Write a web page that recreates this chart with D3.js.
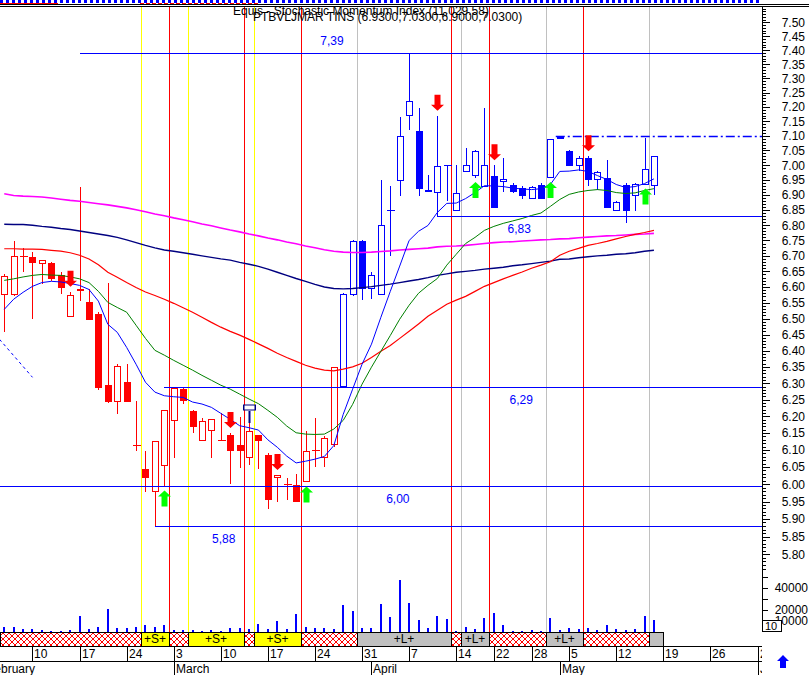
<!DOCTYPE html>
<html><head><meta charset="utf-8">
<script src="https://cdn.jsdelivr.net/npm/d3@7"></script>
<style>body{margin:0;background:#fff;} svg{display:block;font-family:Arial,"Liberation Sans",sans-serif;}</style>
</head><body><svg id="c" width="809" height="675"></svg>
<script>
// ---------- DATA (trading days from 5 Feb 2003, index 0) ----------
const opens = [6.573,6.573,6.698,6.695,6.675,6.676,6.637,6.506,6.595,6.553,
 6.513,6.294,6.244,6.305,6.115,6.044,5.976,6.054,6.187,6.283,
 6.216,6.127,6.156,6.129,6.144,6.115,6.075,6.144,6.085,6.017,
 6.002,5.997,6.005,6.100,6.075,6.115,6.290,6.574,6.747,6.592,
 6.574,6.849,6.946,7.169,7.118,6.918,6.908,7.000,6.846,6.976,
 6.965,6.928,6.965,6.944,6.935,6.924,6.887,6.935,6.957,7.098,
 7.047,6.998,7.024,6.949,6.957,6.846,6.935,6.898,6.935,6.930];
const highs = [6.640,6.747,6.727,6.711,6.688,6.680,6.647,6.585,6.928,6.594,
 6.520,6.614,6.360,6.360,6.245,6.098,6.126,6.220,6.290,6.290,
 6.220,6.194,6.193,6.209,6.150,6.197,6.212,6.144,6.090,6.027,
 6.017,6.030,6.157,6.194,6.140,6.350,6.580,6.750,6.750,6.647,
 6.949,6.930,7.166,7.390,7.195,6.968,7.169,7.000,7.000,7.059,
 7.050,7.195,7.000,7.023,6.940,6.930,6.930,6.940,7.090,7.100,
 7.050,7.030,7.030,6.980,7.016,6.880,6.940,6.940,7.094,7.030];
const lows = [6.459,6.570,6.648,6.498,6.610,6.620,6.577,6.506,6.554,6.496,
 6.280,6.240,6.206,6.244,6.098,5.978,5.880,5.993,6.075,6.238,
 6.149,6.127,6.077,6.129,6.000,6.047,6.056,6.044,5.929,5.949,
 5.955,5.948,6.005,6.050,6.049,6.110,6.290,6.570,6.560,6.561,
 6.574,6.700,6.896,7.121,6.898,6.909,6.830,6.879,6.846,6.976,
 6.957,6.928,6.857,6.909,6.905,6.885,6.887,6.887,6.957,7.090,
 6.998,6.980,6.930,6.918,6.857,6.846,6.808,6.846,6.935,6.900];
const closes = [6.636,6.698,6.698,6.678,6.688,6.624,6.596,6.575,6.588,6.496,
 6.286,6.244,6.353,6.244,6.115,6.017,6.126,6.218,6.286,6.246,
 6.167,6.186,6.193,6.129,6.098,6.098,6.156,6.127,5.955,6.027,
 6.002,5.948,6.097,6.100,6.134,6.349,6.577,6.747,6.594,6.637,
 6.799,6.849,7.098,7.221,6.921,6.909,6.998,7.000,6.907,7.000,
 7.049,7.000,6.857,6.953,6.909,6.896,6.928,6.887,7.090,7.090,
 6.998,7.024,6.949,6.976,6.857,6.877,6.846,6.938,6.988,7.030];
const volumes = [4300,4800,2500,2700,1800,900,900,1800,14500,2700,
 4800,20900,3600,3600,4800,6400,4800,6600,1800,1800,
 1500,1200,1800,900,3900,3900,2700,7300,2700,10000,
 2700,16600,4500,3600,3900,2700,24800,18800,3600,3600,
 25500,13600,47300,26400,10600,3600,14500,11800,900,4500,
 2700,12500,17000,6400,900,900,1800,900,12500,1800,
 3600,2700,3600,1800,6400,2700,1800,2700,14500,10900];
const maBlue = [6.529,6.561,6.583,6.602,6.614,6.618,6.616,6.611,6.605,6.592,
 6.555,6.482,6.457,6.410,6.358,6.303,6.273,6.262,6.259,6.257,
 6.243,6.237,6.227,6.209,6.191,6.172,6.166,6.159,6.130,6.108,
 6.082,6.062,6.067,6.073,6.081,6.113,6.206,6.282,6.358,6.420,
 6.504,6.586,6.667,6.750,6.780,6.799,6.842,6.872,6.873,6.888,
 6.908,6.931,6.930,6.928,6.923,6.920,6.918,6.921,6.935,6.979,
 6.980,6.984,6.979,6.965,6.952,6.935,6.925,6.928,6.938,6.954];
const maGreen = [6.621,6.626,6.632,6.637,6.640,6.638,6.637,6.632,6.626,6.614,
 6.586,6.551,6.535,6.520,6.479,6.438,6.401,6.386,6.370,6.355,
 6.340,6.324,6.309,6.294,6.282,6.267,6.252,6.238,6.218,6.197,
 6.171,6.151,6.147,6.146,6.147,6.162,6.188,6.236,6.297,6.349,
 6.398,6.447,6.498,6.542,6.580,6.605,6.627,6.670,6.705,6.740,
 6.760,6.783,6.796,6.806,6.814,6.822,6.832,6.840,6.862,6.885,
 6.902,6.910,6.915,6.918,6.915,6.908,6.905,6.907,6.915,6.921];
const maRed = [6.723,6.723,6.722,6.722,6.721,6.718,6.715,6.710,6.702,6.690,
 6.671,6.647,6.631,6.614,6.598,6.584,6.573,6.561,6.548,6.534,
 6.520,6.504,6.488,6.473,6.460,6.448,6.435,6.421,6.407,6.392,
 6.379,6.367,6.355,6.346,6.340,6.338,6.343,6.350,6.361,6.379,
 6.398,6.416,6.438,6.460,6.483,6.507,6.526,6.545,6.558,6.570,
 6.586,6.602,6.614,6.626,6.637,6.648,6.660,6.670,6.681,6.702,
 6.715,6.724,6.734,6.740,6.747,6.755,6.763,6.770,6.776,6.783];
const maNavy = [6.803,6.802,6.802,6.800,6.796,6.793,6.789,6.786,6.781,6.776,
 6.771,6.766,6.760,6.752,6.743,6.734,6.726,6.719,6.715,6.710,
 6.705,6.700,6.695,6.690,6.686,6.679,6.673,6.666,6.657,6.647,
 6.637,6.627,6.618,6.608,6.600,6.595,6.594,6.595,6.598,6.601,
 6.605,6.609,6.614,6.619,6.624,6.630,6.637,6.642,6.647,6.650,
 6.653,6.657,6.660,6.663,6.668,6.671,6.675,6.679,6.683,6.689,
 6.690,6.694,6.697,6.700,6.702,6.705,6.707,6.710,6.715,6.718];
const maMagenta = [6.904,6.898,6.896,6.895,6.893,6.890,6.886,6.882,6.879,6.875,
 6.871,6.867,6.862,6.857,6.851,6.844,6.837,6.831,6.824,6.818,
 6.811,6.804,6.798,6.791,6.784,6.778,6.771,6.765,6.758,6.752,
 6.745,6.739,6.732,6.726,6.720,6.715,6.712,6.711,6.711,6.712,
 6.714,6.716,6.719,6.721,6.723,6.725,6.729,6.731,6.732,6.734,
 6.737,6.740,6.743,6.745,6.746,6.748,6.750,6.752,6.753,6.755,
 6.756,6.759,6.761,6.763,6.765,6.766,6.768,6.770,6.771,6.773];
const sellDays = [7,24,29,46,52,62];
const buyDays = [17,32,50,58,68];
const markerDay = 26;
const blueFrom = 36;
const levelValues = [7.39,6.83,6.29,5.995,5.88];
const levelLabels = ["7,39","6,83","6,29","6,00","5,88"];
const levelFrom = [8,46,17,-1,16];
const levelLabelDay = [34.8,54.7,54.9,41.8,23.3];
const dashLevel = 7.10, dashFrom = 59;
const trendLine = [[-0.5,6.435],[3.0,6.318]];
const bandEdges = [-0.5,14.5,17.5,19.5,25.5,26.5,31.5,37.5,47.5,48.5,51.5,57.5,61.5,68.5,70];
const bandKinds = ["x","S","x","S","x","S","x","L","x","L","x","L","x","G"];
const weekTickDays = [3,8,13,18,23,28,33,38,43,48,52,56,60,65,70,75,80];
const weekTickLabels = ["10","17","24","3","10","17","24","31","7","14","22","28","5","12","19","26","2"];
const monthDays = [-2,18,39,59,80];
const monthLabels = ["February","March","April","May","June"];
const priceTickValues = [7.50,7.45,7.40,7.35,7.30,7.25,7.20,7.15,7.10,7.05,7.00,6.95,6.90,6.85,6.80,6.75,6.70,6.65,6.60,6.55,6.50,6.45,6.40,6.35,6.30,6.25,6.20,6.15,6.10,6.05,6.00,5.95,5.90,5.85,5.80];
const priceTickLabels = ["7.50","7.45","7.40","7.35","7.30","7.25","7.20","7.15","7.10","7.05","7.00","6.95","6.90","6.85","6.80","6.75","6.70","6.65","6.60","6.55","6.50","6.45","6.40","6.35","6.30","6.25","6.20","6.15","6.10","6.05","6.00","5.95","5.90","5.85","5.80"];
const volTickValues = [10000,20000,30000,40000,50000];
const volTickLabels = ["10000","20000","","40000",""];
const titleLine1 = "Equis - Stochastic Momentum Index (11,029.58)";
const titleLine2 = "PTBVLJMAR TINS (6.9300,7.0300,6.9000,7.0300)";

// ---------- LAYOUT ----------
const svg = d3.select("#c");
const plotR = 762, plotTop = 7, volBase = 632, bandBot = 646, dayBot = 661;
const x = d3.scaleLinear().domain([0,80]).range([4.25,757.5]);
const y = d3.scaleLog().domain([5.88,7.39]).range([526,53]);
const yv = d3.scaleLinear().domain([0,40000]).range([volBase,588]);
const r = v => Math.round(v)+0.5;
const RED="#ff0000", BLUE="#0000ff";
const FONT = "Arial,'Liberation Sans',sans-serif";

const defs = svg.append("defs");
defs.append("clipPath").attr("id","plot").append("rect").attr("x",0).attr("y",plotTop).attr("width",plotR).attr("height",volBase-plotTop);
defs.append("clipPath").attr("id","axisclip").append("rect").attr("x",0).attr("y",0).attr("width",plotR).attr("height",675);
const pat = defs.append("pattern").attr("id","hatch").attr("patternUnits","userSpaceOnUse").attr("width",6).attr("height",6);
pat.append("rect").attr("width",6).attr("height",6).attr("fill","#fff");
pat.append("path").attr("d","M0,0L6,6M6,0L0,6").attr("stroke",RED).attr("stroke-width",1);

svg.append("rect").attr("width",809).attr("height",675).attr("fill","#fff");

// header strip
const hdr = svg.append("g").attr("shape-rendering","crispEdges");
hdr.append("line").attr("x1",0).attr("x2",plotR).attr("y1",1.5).attr("y2",1.5).attr("stroke",BLUE).attr("stroke-width",3).attr("stroke-dasharray","3,3");
hdr.append("line").attr("x1",0).attr("x2",58).attr("y1",3.5).attr("y2",3.5).attr("stroke",RED);
hdr.append("line").attr("x1",140).attr("x2",260).attr("y1",3.5).attr("y2",3.5).attr("stroke",RED).attr("stroke-dasharray","4,2");
hdr.append("line").attr("x1",0).attr("x2",809).attr("y1",4.5).attr("y2",4.5).attr("stroke","#000");
hdr.append("line").attr("x1",0).attr("x2",809).attr("y1",6.5).attr("y2",6.5).attr("stroke","#000");

const plot = svg.append("g").attr("clip-path","url(#plot)");

// signal vertical lines
const vcol = {S:"#ffff00", L:"#c0c0c0", G:"#c0c0c0", x:RED};
bandEdges.slice(1,-1).forEach((e,k)=>{
  plot.append("line").attr("x1",r(x(e))).attr("x2",r(x(e))).attr("y1",plotTop).attr("y2",volBase)
    .attr("stroke",vcol[bandKinds[k+1]]).attr("stroke-width",1).attr("shape-rendering","crispEdges");
});

// volume bars
plot.selectAll(".vol").data(volumes).join("rect")
  .attr("x",(d,i)=>Math.round(x(i))-1).attr("width",2)
  .attr("y",d=>yv(d)).attr("height",d=>volBase-yv(d)).attr("fill",BLUE).attr("shape-rendering","crispEdges");

// candles
const cg = plot.append("g").attr("shape-rendering","crispEdges");
opens.forEach((o,i)=>{
  const c = closes[i], col = i>=blueFrom?BLUE:RED, cx = r(x(i));
  cg.append("line").attr("x1",cx).attr("x2",cx).attr("y1",y(highs[i])).attr("y2",y(lows[i])).attr("stroke",col);
  const top = Math.round(y(Math.max(o,c))), bot = Math.round(y(Math.min(o,c)));
  if (bot-top < 2) {
    cg.append("line").attr("x1",cx-4).attr("x2",cx+4).attr("y1",top+0.5).attr("y2",top+0.5).attr("stroke",col).attr("stroke-width",1.5);
  } else {
    cg.append("rect").attr("x",cx-3).attr("y",top+0.5).attr("width",6).attr("height",bot-top-1)
      .attr("fill",c>o?"#fff":col).attr("stroke",col);
  }
});

// moving averages
const line = d3.line().x((d,i)=>x(i)).y(d=>y(d));
[[maMagenta,"#ff00ff",1.6],[maNavy,"#000080",1.4],[maRed,RED,1.2],[maGreen,"#008000",1],[maBlue,BLUE,1]].forEach(([data,col,w])=>{
  plot.append("path").datum(data).attr("d",line).attr("fill","none").attr("stroke",col).attr("stroke-width",w);
});

// dashed trend line
plot.append("line").attr("x1",x(trendLine[0][0])).attr("y1",y(trendLine[0][1])).attr("x2",x(trendLine[1][0])).attr("y2",y(trendLine[1][1]))
  .attr("stroke",BLUE).attr("stroke-dasharray","3,3");

// horizontal levels
levelValues.forEach((v,k)=>{
  plot.append("line").attr("x1",Math.max(0,x(levelFrom[k]))).attr("x2",plotR).attr("y1",r(y(v))).attr("y2",r(y(v)))
    .attr("stroke",BLUE).attr("shape-rendering","crispEdges");
  const dy = k===0 ? -8 : 17;
  plot.append("text").attr("x",x(levelLabelDay[k])).attr("y",y(v)+dy).attr("text-anchor","middle")
    .attr("font-size",12).attr("fill",BLUE).text(levelLabels[k]);
});
plot.append("line").attr("x1",x(dashFrom)-4).attr("x2",plotR).attr("y1",r(y(dashLevel))).attr("y2",r(y(dashLevel)))
  .attr("stroke",BLUE).attr("stroke-width",1.5).attr("stroke-dasharray","9,3,2,3");

// arrows
function downArrow(cx, tip){
  return `M${cx-3},${tip-16}H${cx+3}V${tip-6}H${cx+6.5}L${cx},${tip}L${cx-6.5},${tip-6}H${cx-3}Z`;
}
function upArrow(cx, tip){
  return `M${cx},${tip}L${cx+6.5},${tip+6}H${cx+3}V${tip+16}H${cx-3}V${tip+6}H${cx-6.5}Z`;
}
sellDays.forEach(i=>plot.append("path").attr("d",downArrow(Math.round(x(i))+0.5, y(highs[i])-5)).attr("fill",RED));
buyDays.forEach(i=>plot.append("path").attr("d",upArrow(Math.round(x(i))+0.5, y(lows[i])+4)).attr("fill","#00ff00"));

// marker box
{
  const cx = Math.round(x(markerDay))+0.5, ty = Math.round(y(highs[markerDay]));
  plot.append("line").attr("x1",cx).attr("x2",cx).attr("y1",ty-1).attr("y2",ty+11).attr("stroke","#000080").attr("stroke-width",2);
  plot.append("rect").attr("x",cx-6.5).attr("y",ty-7.5).attr("width",13).attr("height",6).attr("fill","#000080");
  plot.append("rect").attr("x",cx-5).attr("y",ty-6.5).attr("width",10).attr("height",4).attr("fill","#fff");
}

// bands
const bands = svg.append("g").attr("clip-path","url(#axisclip)");
bandKinds.forEach((k,j)=>{
  const x0 = Math.max(0,Math.round(x(bandEdges[j]))), x1 = Math.round(x(bandEdges[j+1]));
  const fill = k==="x"?"url(#hatch)":(k==="S"?"#ffff00":"#c0c0c0");
  bands.append("rect").attr("x",x0+0.5).attr("y",volBase+0.5).attr("width",x1-x0).attr("height",bandBot-volBase)
    .attr("fill",fill).attr("stroke","#000").attr("shape-rendering","crispEdges");
  if (k==="S"||k==="L") bands.append("text").attr("x",(x0+x1)/2).attr("y",bandBot-3).attr("text-anchor","middle")
    .attr("font-size",12).text(k==="S"?"+S+":"+L+");
});

// date axis
const ax = svg.append("g").attr("clip-path","url(#axisclip)").attr("shape-rendering","crispEdges");
ax.append("line").attr("x1",0).attr("x2",plotR).attr("y1",bandBot+0.5).attr("y2",bandBot+0.5).attr("stroke","#000");
ax.append("line").attr("x1",0).attr("x2",plotR).attr("y1",dayBot+0.5).attr("y2",dayBot+0.5).attr("stroke","#000");
weekTickDays.forEach((d,k)=>{
  const tx = r(x(d));
  ax.append("line").attr("x1",tx).attr("x2",tx).attr("y1",bandBot).attr("y2",dayBot).attr("stroke","#000");
  ax.append("text").attr("x",tx+1.5).attr("y",dayBot-3).attr("font-size",12).text(weekTickLabels[k]);
});
monthDays.forEach((d,k)=>{
  const tx = r(x(d));
  ax.append("line").attr("x1",tx).attr("x2",tx).attr("y1",dayBot).attr("y2",675).attr("stroke","#000");
  ax.append("text").attr("x",tx+1.5).attr("y",673).attr("font-size",12).text(monthLabels[k]);
});

// right axis
const ra = svg.append("g").attr("transform",`translate(${plotR},0)`);
ra.append("line").attr("x1",0.5).attr("x2",0.5).attr("y1",plotTop).attr("y2",volBase).attr("stroke","#000").attr("shape-rendering","crispEdges");
const minorVals = d3.range(576,756).map(k=>k/100);
const gMinor = ra.append("g").call(d3.axisRight(y).tickValues(minorVals).tickSize(4).tickFormat(""));
const gMajor = ra.append("g").call(d3.axisRight(y).tickValues(priceTickValues).tickSize(8).tickFormat((d,i)=>priceTickLabels[i]));
[gMinor,gMajor].forEach(g=>{g.select(".domain").remove(); g.selectAll("line").attr("shape-rendering","crispEdges");});
gMajor.selectAll("text").attr("text-anchor","end").attr("x",43).attr("font-size",12).attr("font-family",FONT);
const gVol = ra.append("g").call(d3.axisRight(yv).tickValues(volTickValues).tickSize(6).tickFormat((d,i)=>volTickLabels[i]));
gVol.select(".domain").remove();
gVol.selectAll("line").attr("shape-rendering","crispEdges");
gVol.selectAll("text").attr("text-anchor","end").attr("x",46).attr("font-size",12).attr("font-family",FONT);
// small "10" box
ra.append("rect").attr("x",0.5).attr("y",620.5).attr("width",19).attr("height",11).attr("fill","#fff").attr("stroke","#000").attr("shape-rendering","crispEdges");
ra.append("text").attr("x",3).attr("y",630).attr("font-size",11).text("10");
// right blue arrow
ra.append("path").attr("d","M21,655L27,661H24V668H18V661H15Z").attr("fill",BLUE);

// title
svg.append("text").attr("x",233).attr("y",15).attr("font-size",12).text(titleLine1);
svg.append("text").attr("x",253).attr("y",21).attr("font-size",12).text(titleLine2);
</script></body></html>
